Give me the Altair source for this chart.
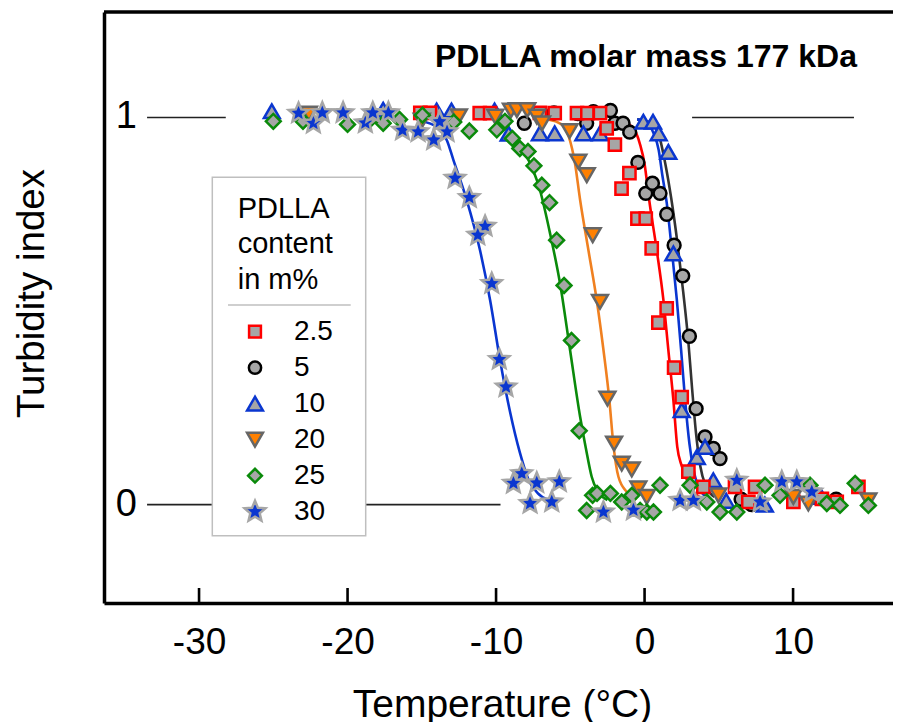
import altair as alt
import pandas as pd

FONT = "Liberation Sans"
series = ["2.5", "5", "10", "20", "25", "30"]

# ---------------- measured points ----------------
x_2p5 = [-15.1, -14.45, -11.1, -10.4, -7.05, -6.05, -4.55, -3.85, -3.0, -2.55, -2.0, -1.55, -1.02, -0.48, 0.08, 0.48, 0.93, 1.49, 1.99, 2.5, 2.95, 3.96, 6.09, 6.99, 7.44, 10.02, 11.94, 12.94, 14.4]
y_2p5 = [1.012, 1.012, 1.011, 1.011, 1.012, 1.011, 1.011, 1.011, 1.011, 0.972, 0.930, 0.816, 0.856, 0.739, 0.739, 0.662, 0.470, 0.507, 0.354, 0.278, 0.085, 0.046, 0.046, 0.007, 0.046, 0.007, 0.015, 0.007, 0.046]

x_5 = [-8.1, -6.1, -4.5, -3.9, -3.45, -2.3, -2.0, -1.45, -1.0, -0.45, 0.08, 0.53, 1.04, 1.49, 1.99, 2.57, 3.02, 3.47, 4.07, 4.63, 5.08, 6.5, 7.2, 12.9]
y_5 = [0.985, 1.012, 1.010, 0.985, 1.015, 1.018, 0.985, 0.985, 0.962, 0.884, 0.804, 0.830, 0.804, 0.750, 0.670, 0.591, 0.435, 0.248, 0.175, 0.145, 0.119, 0.014, 0.0, 0.014]

x_10 = [-25.1, -17.6, -14.0, -13.0, -10.1, -9.15, -7.05, -6.05, -4.12, -3.0, -0.08, 0.57, 0.95, 1.6, 1.94, 2.5, 3.52, 4.07, 4.63, 5.5, 8.1, 11.9]
y_10 = [1.016, 1.020, 1.018, 1.018, 1.018, 0.958, 0.959, 0.959, 0.959, 0.959, 0.989, 0.989, 0.959, 0.911, 0.649, 0.244, 0.123, 0.149, 0.063, 0.010, 0.0, 0.020]

x_20 = [-22.6, -15.0, -12.5, -10.05, -9.0, -8.6, -7.9, -7.25, -6.9, -5.05, -4.46, -3.89, -3.49, -3.0, -2.5, -2.05, -1.54, -0.86, -0.42, 0.15, 4.97, 10.02, 11.03, 15.07]
y_20 = [1.010, 0.992, 1.003, 1.002, 1.018, 1.019, 1.019, 1.002, 0.985, 0.965, 0.886, 0.851, 0.696, 0.524, 0.274, 0.158, 0.106, 0.091, 0.042, 0.020, 0.024, 0.020, 0.003, 0.011]

x_25 = [-25.0, -23.0, -20.0, -18.6, -17.6, -16.5, -14.96, -12.85, -11.8, -9.95, -9.4, -8.9, -8.4, -7.85, -7.45, -6.92, -6.4, -5.92, -5.42, -4.92, -4.4, -3.9, -3.5, -3.2, -2.3, -1.54, -0.86, -0.3, 0.15, 0.6, 1.04, 3.06, 4.19, 5.08, 6.21, 8.11, 9.12, 11.14, 12.27, 13.16, 14.18, 15.07]
y_25 = [0.990, 0.990, 0.982, 0.990, 0.985, 0.995, 1.006, 0.988, 0.965, 0.968, 0.990, 0.946, 0.920, 0.912, 0.875, 0.825, 0.780, 0.683, 0.566, 0.424, 0.191, -0.015, 0.024, 0.029, 0.029, 0.007, 0.024, -0.015, -0.019, -0.019, 0.050, 0.050, 0.007, -0.019, -0.019, 0.050, 0.024, 0.050, 0.003, -0.002, 0.055, -0.002]

x_30 = [-23.3, -22.3, -21.7, -20.3, -18.8, -18.3, -17.25, -16.3, -15.25, -14.2, -13.8, -13.3, -12.76, -11.8, -10.74, -11.23, -10.29, -9.78, -9.33, -8.27, -8.83, -7.26, -5.74, -7.71, -6.25, -2.77, -0.75, 2.39, 3.29, 6.21, 7.78, 9.24, 10.25, 11.26]
y_30 = [1.011, 0.985, 1.012, 1.012, 0.986, 1.012, 1.012, 0.967, 0.963, 0.942, 0.989, 0.963, 0.843, 0.793, 0.719, 0.696, 0.571, 0.375, 0.304, 0.080, 0.055, 0.056, 0.059, 0.003, 0.007, -0.019, -0.014, 0.011, 0.011, 0.063, 0.007, 0.059, 0.059, 0.033]

# ---------------- fitted curves ----------------
cx_2p5 = [-2.0, -1.5, -0.8, -0.3, 0.0, 0.3, 0.82, 1.27, 1.6, 1.94, 2.2, 2.5, 2.9, 3.5, 4.5]
cy_2p5 = [0.996, 0.99, 0.975, 0.93, 0.88, 0.79, 0.657, 0.528, 0.40, 0.27, 0.15, 0.10, 0.06, 0.025, 0.01]
cx_5 = [-0.5, 0.5, 1.0, 1.4, 1.8, 2.2, 2.6, 2.95, 3.2, 3.45, 3.75, 4.1, 4.7]
cy_5 = [0.995, 0.985, 0.95, 0.88, 0.79, 0.68, 0.55, 0.42, 0.30, 0.19, 0.10, 0.05, 0.02]
cx_10 = [-0.5, 0.0, 0.6, 0.95, 1.2, 1.49, 1.83, 2.17, 2.46, 2.73, 3.02, 3.3, 3.7, 4.5]
cy_10 = [0.995, 0.99, 0.96, 0.916, 0.85, 0.78, 0.66, 0.53, 0.40, 0.27, 0.158, 0.09, 0.04, 0.012]
cx_20 = [-6.5, -6.0, -5.47, -5.1, -4.7, -4.34, -3.78, -3.22, -2.77, -2.37, -2.1, -1.76, -1.2, -0.5]
cy_20 = [0.995, 0.99, 0.978, 0.95, 0.885, 0.787, 0.657, 0.528, 0.40, 0.27, 0.155, 0.072, 0.033, 0.015]
cx_25 = [-10.0, -9.0, -8.16, -7.04, -6.36, -5.69, -5.02, -4.34, -3.95, -3.56, -3.2, -2.5]
cy_25 = [0.985, 0.965, 0.916, 0.812, 0.70, 0.571, 0.40, 0.227, 0.145, 0.072, 0.037, 0.012]
cx_30 = [-15.0, -14.0, -13.3, -12.87, -12.0, -11.08, -10.4, -9.73, -9.06, -8.4, -7.8, -7.2, -6.5]
cy_30 = [0.99, 0.975, 0.94, 0.89, 0.79, 0.657, 0.528, 0.373, 0.24, 0.135, 0.063, 0.03, 0.012]

# reference lines
ref_v = [1, 1, 0]
ref_x1 = [-33.5, 3.2, -33.5]
ref_x2 = [-28.2, 14.1, -9.7]

tick_values = [-30, -20, -10, 0, 10]
ylabel_values = [0, 1]
ylabel_text = ["0", "1"]
title_text = "PDLLA molar mass 177 kDa"
legend_title = ["PDLLA", "content", "in m%"]

STAR = "M0,-1L0.265,-0.364L0.951,-0.309L0.428,0.139L0.588,0.809L0,0.45L-0.588,0.809L-0.428,0.139L-0.951,-0.309L-0.265,-0.364Z"
shapes = ["square", "circle", "triangle-up", "triangle-down", "diamond", STAR]
fills = ["#A6A6A6", "#A6A6A6", "#A6A6A6", "#FF8000", "#A6A6A6", "#0A36D0"]
strokes = ["#FF0000", "#000000", "#0A36D0", "#666666", "#0A8A0A", "#A6A6A6"]
sizes = [150, 165, 250, 250, 220, 440]
legend_sizes = [140, 150, 250, 250, 190, 480]
curve_colors = ["#FF0000", "#333333", "#0A36D0", "#F08020", "#0A8A0A", "#0A36D0"]

W, H = 796, 591
XDOM = [-36.4, 17.2]
YDOM = [-0.254, 1.2724]

pts = {"2.5": (x_2p5, y_2p5), "5": (x_5, y_5), "10": (x_10, y_10),
       "20": (x_20, y_20), "25": (x_25, y_25), "30": (x_30, y_30)}
crv = {"2.5": (cx_2p5, cy_2p5), "5": (cx_5, cy_5), "10": (cx_10, cy_10),
       "20": (cx_20, cy_20), "25": (cx_25, cy_25), "30": (cx_30, cy_30)}

crows = []
for s in series:
    xs, ys = crv[s]
    for a, b in zip(xs, ys):
        crows.append({"curve": s, "T": a, "v": b})
df_crv = pd.DataFrame(crows)

df_ref = pd.DataFrame({"T": ref_x1, "T2": ref_x2, "v": ref_v})
df_ticks = pd.DataFrame({"T": tick_values})
df_ylab = pd.DataFrame({"v": ylabel_values, "txt": ylabel_text})
df_title = pd.DataFrame({"txt": [title_text]})
dummy = pd.DataFrame({"a": [0]})

xaxis = alt.Axis(values=tick_values, ticks=False, tickSize=0, grid=False,
                 domainColor="black", domainWidth=3.5,
                 labelFont=FONT, labelFontSize=37, labelColor="black",
                 labelPadding=50, labelBaseline="alphabetic", labelFlush=False,
                 labelExpr="datum.value + ''",
                 title="Temperature (°C)", titleFont=FONT, titleFontSize=39,
                 titleFontWeight="normal", titleColor="black",
                 titleBaseline="alphabetic", titleY=113)
yaxis = alt.Axis(labels=False, ticks=False, grid=False,
                 domainColor="black", domainWidth=3.5,
                 title="Turbidity index", titleFont=FONT, titleFontSize=38.5,
                 titleFontWeight="normal", titleColor="black",
                 titleAngle=270, titleX=-61, titleY=281,
                 titleBaseline="alphabetic", titleAlign="center")
xs_ = alt.Scale(domain=XDOM, nice=False, zero=False)
ys_ = alt.Scale(domain=YDOM, nice=False, zero=False)


def X(f="T"):
    return alt.X(f"{f}:Q", scale=xs_, axis=xaxis)


def Y(f="v"):
    return alt.Y(f"{f}:Q", scale=ys_, axis=yaxis)


layers = []
layers.append(alt.Chart(df_ref).mark_rule(color="#222222", strokeWidth=1.6).encode(
    x=X(), x2="T2:Q", y=Y()))

# legend box
layers.append(alt.Chart(dummy).mark_rect(fill="white", stroke="#BFBFBF", strokeWidth=1.5).encode(
    x=alt.value(108.3), x2=alt.value(261.7), y=alt.value(165.3), y2=alt.value(523.7)))
layers.append(alt.Chart(dummy).mark_rule(color="#BFBFBF", strokeWidth=1.5).encode(
    x=alt.value(124), x2=alt.value(246.7), y=alt.value(293)))

# curves
layers.append(alt.Chart(df_crv).mark_line(strokeWidth=2.6, interpolate="monotone").encode(
    x=X(), y=Y(),
    color=alt.Color("curve:N", scale=alt.Scale(domain=series, range=curve_colors), legend=None),
    detail="curve:N"))

# points, one layer per series (drawing order)
draw_order = ["5", "10", "2.5", "20", "25", "30"]
for s in draw_order:
    i = series.index(s)
    xs, ys = pts[s]
    d = pd.DataFrame({"T": xs, "v": ys})
    layers.append(alt.Chart(d).mark_point(
        shape=shapes[i], filled=True, fill=fills[i], stroke=strokes[i],
        strokeWidth=2.5, size=sizes[i], opacity=1).encode(x=X(), y=Y()))

# manual legend
LEG_TITLE_X = 133.7
for k, line in enumerate(legend_title):
    layers.append(alt.Chart(dummy).mark_text(
        align="left", baseline="alphabetic", font=FONT, fontSize=29, color="black").encode(
        x=alt.value(LEG_TITLE_X), y=alt.value(205.5 + 35.5 * k), text=alt.value(line)))
for i, s in enumerate(series):
    yy = 319.7 + 36 * i
    layers.append(alt.Chart(dummy).mark_point(
        shape=shapes[i], filled=True, fill=fills[i], stroke=strokes[i],
        strokeWidth=2.5, size=legend_sizes[i], opacity=1).encode(
        x=alt.value(151), y=alt.value(yy)))
    layers.append(alt.Chart(dummy).mark_text(
        align="left", baseline="middle", font=FONT, fontSize=28, color="black").encode(
        x=alt.value(190), y=alt.value(yy), text=alt.value(s)))

# inward ticks, top frame, y labels, title
layers.append(alt.Chart(df_ticks).mark_rule(color="black", strokeWidth=2.6).encode(
    x=X(), y=alt.value(H - 15), y2=alt.value(H)))
layers.append(alt.Chart(dummy).mark_rule(color="black", strokeWidth=3.5).encode(
    x=alt.value(0), x2=alt.value(W), y=alt.value(0)))
layers.append(alt.Chart(df_ylab).mark_text(align="right", baseline="middle", font=FONT,
                                           fontSize=38, color="black").encode(
    x=alt.value(33), y=Y(), text="txt:N"))
layers.append(alt.Chart(df_title).mark_text(align="right", baseline="alphabetic", font=FONT,
                                            fontSize=32, fontWeight="bold", color="black").encode(
    x=alt.value(753), y=alt.value(55), text="txt:N"))

# SVG kept within the 885px-wide page container (plot runs to its right edge)
chart = alt.layer(*layers).properties(
    width=W, height=H,
    autosize=alt.AutoSizeParams(type="none"),
    padding={"left": 96, "top": 4, "right": -7, "bottom": 119},
).configure_view(stroke=None)

chart.save("out.html", embed_options={"renderer": "svg", "actions": False})
